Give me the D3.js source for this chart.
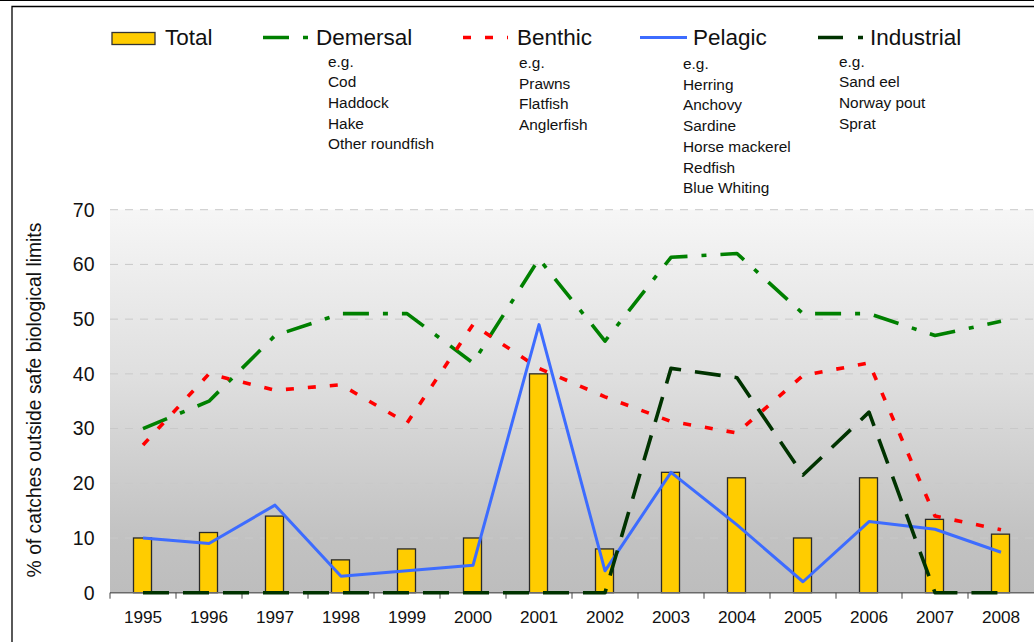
<!DOCTYPE html>
<html>
<head>
<meta charset="utf-8">
<script src="https://cdn.jsdelivr.net/npm/d3@7"></script>
<style>
  body { margin: 0; background: #fff; }
  svg { display: block; font-family: "Liberation Sans", Arial, sans-serif; }
</style>
</head>
<body>
<div id="chart"></div>
<script>
// data
const years = ["1995", "1996", "1997", "1998", "1999", "2000", "2001", "2002", "2003", "2004", "2005", "2006", "2007", "2008"];
const total = [10, 11, 14, 6, 8, 10, 40, 8, 22, 21, 10, 21, 13.4, 10.7];
const demersal = [30, 35, 47, 51, 51, 42, 61, 46, 61.3, 62, 51, 51, 47, 49.6];
const benthic = [27, 40, 37, 38, 31, 49, 41, 35.8, 31.3, 29.2, 39.7, 42, 14, 11.5];
const pelagic = [10, 9, 16, 3, 4, 5, 49, 4, 22, 12.4, 2, 13, 11.6, 7.4];
const industrial = [0, 0, 0, 0, 0, 0, 0, 0, 41, 39.3, 21.5, 33, 0, 0];
const yTicks = [0, 10, 20, 30, 40, 50, 60, 70];

const seriesNames = ["Demersal", "Benthic", "Pelagic", "Industrial"];
const examples = [
  ["e.g.", "Cod", "Haddock", "Hake", "Other roundfish"],
  ["e.g.", "Prawns", "Flatfish", "Anglerfish"],
  ["e.g.", "Herring", "Anchovy", "Sardine", "Horse mackerel", "Redfish", "Blue Whiting"],
  ["e.g.", "Sand eel", "Norway pout", "Sprat"]
];

const W = 1034, H = 642;
const plot = { left: 110, right: 1034, top: 209.7, bottom: 592.7 };

const svg = d3.select("#chart").append("svg")
  .attr("width", W)
  .attr("height", H);

// frame
svg.append("line")
  .attr("x1", 0).attr("x2", W).attr("y1", 0.5).attr("y2", 0.5)
  .attr("stroke", "#000").attr("stroke-width", 1);
svg.append("path")
  .attr("d", "M12," + H + "V6.5H" + W)
  .attr("fill", "none").attr("stroke", "#000").attr("stroke-width", 1.3);

const x = d3.scaleBand()
  .domain(years)
  .range([plot.left, plot.right]);

const y = d3.scaleLinear()
  .domain([0, 70])
  .range([plot.bottom, plot.top]);

// background gradient
const defs = svg.append("defs");
const grad = defs.append("linearGradient")
  .attr("id", "bg")
  .attr("x1", 0).attr("y1", 0).attr("x2", 0).attr("y2", 1);
grad.append("stop").attr("offset", "0%").attr("stop-color", "#f6f6f6");
grad.append("stop").attr("offset", "45%").attr("stop-color", "#dedede");
grad.append("stop").attr("offset", "85%").attr("stop-color", "#c2c2c2");
grad.append("stop").attr("offset", "100%").attr("stop-color", "#bdbdbd");

svg.append("rect")
  .attr("x", plot.left)
  .attr("y", plot.top)
  .attr("width", plot.right - plot.left)
  .attr("height", plot.bottom - plot.top)
  .attr("fill", "url(#bg)");

// gridlines
svg.append("g")
  .selectAll("line")
  .data(yTicks.filter(d => d > 0))
  .join("line")
    .attr("x1", plot.left)
    .attr("x2", plot.right)
    .attr("y1", d => y(d))
    .attr("y2", d => y(d))
    .attr("stroke", "#c9c9c9")
    .attr("stroke-width", 1)
    .attr("stroke-dasharray", "8,7");

// y tick labels
svg.append("g")
  .selectAll("text")
  .data(yTicks)
  .join("text")
    .attr("x", 94.5)
    .attr("y", d => y(d))
    .attr("dy", "0.35em")
    .attr("text-anchor", "end")
    .attr("font-size", 19.5)
    .attr("fill", "#111")
    .text(d => d);

// y title
svg.append("text")
  .attr("transform", "translate(41,400) rotate(-90)")
  .attr("text-anchor", "middle")
  .attr("font-size", 19.3)
  .attr("fill", "#111")
  .text("% of catches outside safe biological limits");

// bars
const barW = 18;
svg.append("g")
  .selectAll("rect")
  .data(total)
  .join("rect")
    .attr("x", (d, i) => x(years[i]) + x.bandwidth() / 2 - barW / 2 - 0.5)
    .attr("y", d => y(d))
    .attr("width", barW)
    .attr("height", d => y(0) - y(d))
    .attr("fill", "#ffcc00")
    .attr("stroke", "#2a2a2a")
    .attr("stroke-width", 1.3);

// x axis
const xAxisG = svg.append("g")
  .attr("transform", "translate(0," + plot.bottom + ")");
xAxisG.append("line")
  .attr("x1", plot.left).attr("x2", plot.right)
  .attr("stroke", "#6a6a6a").attr("stroke-width", 1.6);
xAxisG.selectAll(".tick")
  .data(years)
  .join("line")
    .attr("class", "tick")
    .attr("x1", d => x(d))
    .attr("x2", d => x(d))
    .attr("y1", 0)
    .attr("y2", 6)
    .attr("stroke", "#444")
    .attr("stroke-width", 1);
xAxisG.selectAll("text")
  .data(years)
  .join("text")
    .attr("x", d => x(d) + x.bandwidth() / 2)
    .attr("y", 30.6)
    .attr("text-anchor", "middle")
    .attr("font-size", 17.2)
    .attr("fill", "#111")
    .text(d => d);

// lines
const styles = [
  { color: "#008000", dash: "26,14,5,14", width: 3.6 },
  { color: "#ff0000", dash: "8,14", width: 3.6 },
  { color: "#3d6cff", dash: null, width: 3 },
  { color: "#003300", dash: "26,14", width: 3.6 }
];
const seriesValues = [demersal, benthic, pelagic, industrial];

const line = d3.line()
  .x((d, i) => x(years[i]) + x.bandwidth() / 2)
  .y(d => y(d));

seriesValues.forEach((vals, k) => {
  svg.append("path")
    .datum(vals)
    .attr("d", line)
    .attr("fill", "none")
    .attr("stroke", styles[k].color)
    .attr("stroke-width", styles[k].width)
    .attr("stroke-dasharray", styles[k].dash)
    .attr("stroke-linejoin", "round");
});

// legend
const lg = svg.append("g");
lg.append("rect")
  .attr("x", 112).attr("y", 32.5)
  .attr("width", 43).attr("height", 12)
  .attr("fill", "#ffcc00").attr("stroke", "#333").attr("stroke-width", 1.3);
lg.append("text")
  .attr("x", 165).attr("y", 45)
  .attr("font-size", 22.5)
  .attr("fill", "#111")
  .text("Total");

// symbol x, text x, examples x, examples first baseline
const legendPos = [
  { sx: 263, tx: 316, ex: 328, ey: 66.5 },
  { sx: 463, tx: 517, ex: 519, ey: 68 },
  { sx: 640, tx: 693, ex: 683, ey: 69 },
  { sx: 818, tx: 870, ex: 839, ey: 66.5 }
];

seriesNames.forEach((name, k) => {
  const p = legendPos[k];
  lg.append("line")
    .attr("x1", p.sx).attr("x2", p.sx + (k === 2 ? 47 : 45))
    .attr("y1", 37.5).attr("y2", 37.5)
    .attr("stroke", styles[k].color)
    .attr("stroke-width", styles[k].width)
    .attr("stroke-dasharray", k === 3 ? "25,15,5,15" : styles[k].dash);
  lg.append("text")
    .attr("x", p.tx).attr("y", 45)
    .attr("font-size", 22.5)
    .attr("fill", "#111")
    .text(name);
  lg.append("g")
    .selectAll("text")
    .data(examples[k])
    .join("text")
      .attr("x", p.ex)
      .attr("y", (d, i) => p.ey + i * 20.7)
      .attr("font-size", 15.4)
      .attr("fill", "#111")
      .text(d => d);
});
</script>
</body>
</html>
